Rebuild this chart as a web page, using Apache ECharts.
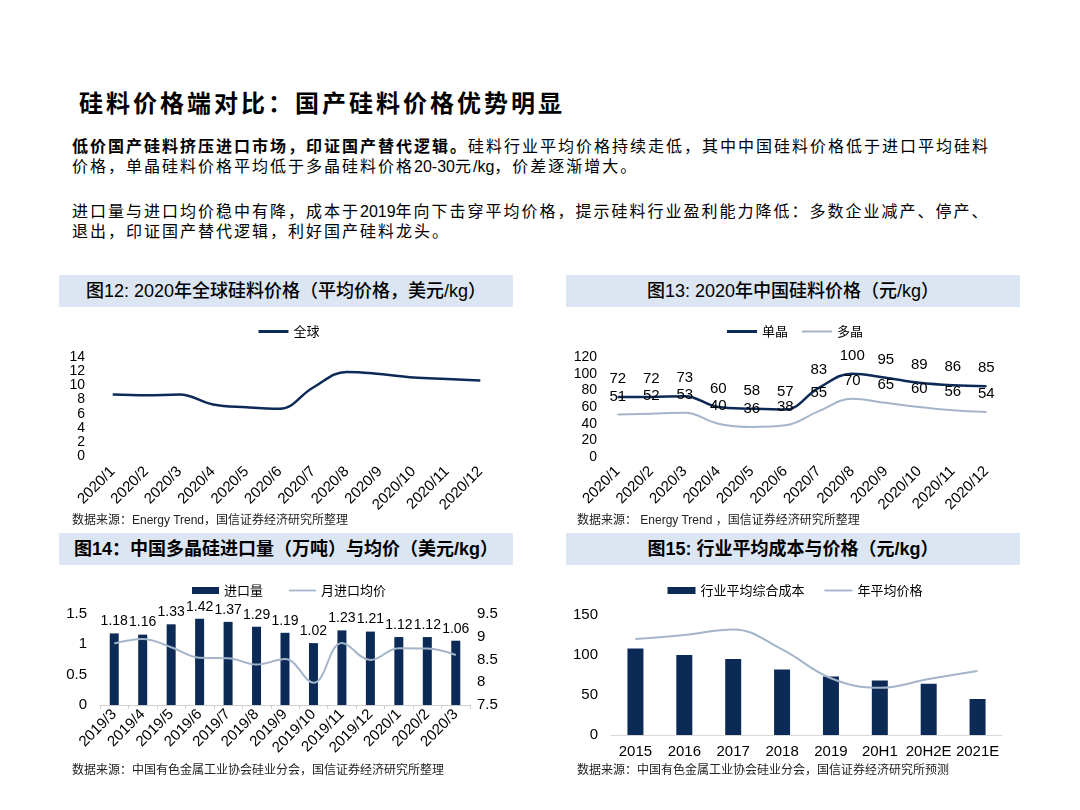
<!DOCTYPE html>
<html>
<head>
<meta charset="utf-8">
<script src="https://cdn.jsdelivr.net/npm/echarts@6/dist/echarts.min.js"></script>
<style>
    body { margin: 0; background: #fff; }
    #page { position: relative; width: 1080px; height: 810px; background: #fff; overflow: hidden;
        font-family: "Liberation Sans", "Noto Sans CJK SC", sans-serif; color: #000; }
    .abs { position: absolute; white-space: nowrap; }
    .title { left: 79px; top: 88px; font-size: 24px; font-weight: bold; letter-spacing: 3px; line-height: 32px; }
    .line { left: 72px; font-size: 16px; letter-spacing: 2px; line-height: 20px; }
    .line .n { letter-spacing: 0; }
    .just { width: 918px; text-align: justify; text-align-last: justify; }
    .head { height: 32px; line-height: 32px; width: 454px; background: #dce6f2; text-align: center; font-size: 18px; }
    .src { font-size: 12px; color: #222; line-height: 14px; }
    .chart { position: absolute; width: 460px; }
</style>
</head>
<body>
<div id="page">
    <div class="abs title">硅料价格端对比：国产硅料价格优势明显</div>

    <div class="abs line just" style="top:137px"><b>低价国产硅料挤压进口市场，印证国产替代逻辑。</b>硅料行业平均价格持续走低，其中中国硅料价格低于进口平均硅料</div>
    <div class="abs line" style="top:157px">价格，单晶硅料价格平均低于多晶硅料价格<span class="n">20-30</span>元<span class="n">/kg</span>，价差逐渐增大。</div>
    <div class="abs line just" style="top:202px;width:914px">进口量与进口均价稳中有降，成本于<span class="n">2019</span>年向下击穿平均价格，提示硅料行业盈利能力降低：多数企业减产、停产、</div>
    <div class="abs line" style="top:222px">退出，印证国产替代逻辑，利好国产硅料龙头。</div>

    <div class="abs head" style="left:59px;top:275px;font-weight:500">图12: 2020年全球硅料价格（平均价格，美元/kg）</div>
    <div class="abs head" style="left:566px;top:275px;font-weight:500">图13: 2020年中国硅料价格（元/kg）</div>
    <div class="abs head" style="left:59px;top:533px;font-weight:bold">图14：中国多晶硅进口量（万吨）与均价（美元/kg）</div>
    <div class="abs head" style="left:566px;top:533px;font-weight:bold">图15: 行业平均成本与价格（元/kg）</div>

    <div id="chart12" class="chart" style="left:59px;top:310px;height:205px"></div>
    <div id="chart13" class="chart" style="left:565px;top:310px;height:205px"></div>
    <div id="chart14" class="chart" style="left:59px;top:570px;height:195px"></div>
    <div id="chart15" class="chart" style="left:565px;top:570px;height:195px"></div>

    <div class="abs src" style="left:72px;top:513px">数据来源：Energy Trend，国信证券经济研究所整理</div>
    <div class="abs src" style="left:577px;top:513px">数据来源： Energy Trend ，国信证券经济研究所整理</div>
    <div class="abs src" style="left:72px;top:763px">数据来源：中国有色金属工业协会硅业分会，国信证券经济研究所整理</div>
    <div class="abs src" style="left:577px;top:763px">数据来源：中国有色金属工业协会硅业分会，国信证券经济研究所预测</div>
</div>

<script>
// chart 12 / 13: 2020 monthly prices
const months2020 = ['2020/1', '2020/2', '2020/3', '2020/4', '2020/5', '2020/6',
    '2020/7', '2020/8', '2020/9', '2020/10', '2020/11', '2020/12'];
const globalPrice = [8.7, 8.6, 8.7, 7.3, 6.9, 6.7, 9.7, 11.9, 11.6, 11.1, 10.9, 10.7];
const monoPrice = [72, 72, 73, 60, 58, 57, 83, 100, 95, 89, 86, 85];
const polyPrice = [51, 52, 53, 40, 36, 38, 55, 70, 65, 60, 56, 54];

// chart 14: imports
const importMonths = ['2019/3', '2019/4', '2019/5', '2019/6', '2019/7', '2019/8', '2019/9',
    '2019/10', '2019/11', '2019/12', '2020/1', '2020/2', '2020/3'];
const importVolume = [1.18, 1.16, 1.33, 1.42, 1.37, 1.29, 1.19, 1.02, 1.23, 1.21, 1.12, 1.12, 1.06];
const importPrice = [8.85, 8.95, 8.77, 8.54, 8.53, 8.39, 8.51, 7.99, 8.86, 8.49, 8.75, 8.74, 8.6];

// chart 15: cost vs price
const costYears = ['2015', '2016', '2017', '2018', '2019', '20H1', '20H2E', '2021E'];
const industryCost = [108, 100, 95, 82, 73, 68, 64, 45];
const annualPrice = [120, 125, 132, 107, 71, 59, 70, 80];

const NAVY = '#0c2a56';
const GREY = '#a4b5c9';
const numFont = 'Liberation Sans';
const cjkFont = 'Noto Sans CJK SC';

// flat bar shapes used as legend icons for the lines (legend keeps aspect)
const lineIcon3 = 'path://M0,0 L30,0 L30,3 L0,3 Z';
const lineIcon2 = 'path://M0,0 L30,0 L30,2 L0,2 Z';

const legendText = { fontSize: 13, color: '#000', fontFamily: cjkFont };
const numLabel = { fontSize: 15, color: '#000', fontFamily: numFont };

const option12 = {
    animation: false,
    legend: {
        top: 10, left: 'center', itemWidth: 30, itemHeight: 14,
        textStyle: legendText,
        data: [{ name: '全球', icon: lineIcon3 }]
    },
    grid: { left: 37, right: 22, top: 47, bottom: 58 },
    xAxis: {
        type: 'category', data: months2020,
        axisLine: { show: false }, axisTick: { show: false },
        axisLabel: Object.assign({ rotate: 45, interval: 0, margin: 13 }, numLabel)
    },
    yAxis: {
        type: 'value', min: 0, max: 14, interval: 2,
        splitLine: { show: false },
        axisLabel: Object.assign({ margin: 11 }, numLabel, { fontSize: 14 })
    },
    series: [{
        name: '全球', type: 'line', data: globalPrice, smooth: 0.4,
        symbol: 'none', lineStyle: { color: NAVY, width: 2.5 }, itemStyle: { color: NAVY }
    }]
};

const option13 = {
    animation: false,
    legend: {
        top: 10, left: 'center', itemWidth: 30, itemHeight: 14, itemGap: 14,
        textStyle: legendText,
        data: [{ name: '单晶', icon: lineIcon3 }, { name: '多晶', icon: lineIcon2 }]
    },
    grid: { left: 36, right: 22, top: 47, bottom: 58 },
    xAxis: {
        type: 'category', data: months2020,
        axisLine: { show: false }, axisTick: { show: false },
        axisLabel: Object.assign({ rotate: 45, interval: 0, margin: 12 }, numLabel)
    },
    yAxis: {
        type: 'value', min: 0, max: 120, interval: 20,
        splitLine: { show: false },
        axisLabel: Object.assign({ margin: 4 }, numLabel, { fontSize: 14 })
    },
    series: [{
        name: '单晶', type: 'line', data: monoPrice, smooth: 0.4,
        symbol: 'circle', symbolSize: 1, showSymbol: true,
        lineStyle: { color: NAVY, width: 2.5 }, itemStyle: { color: NAVY },
        label: Object.assign({ show: true, position: 'top', distance: 10 }, numLabel)
    }, {
        name: '多晶', type: 'line', data: polyPrice, smooth: 0.4,
        symbol: 'circle', symbolSize: 1, showSymbol: true,
        lineStyle: { color: GREY, width: 2 }, itemStyle: { color: GREY },
        label: Object.assign({ show: true, position: 'top', distance: 10 }, numLabel)
    }]
};

const option14 = {
    animation: false,
    legend: {
        top: 9, left: 'center', itemWidth: 27, itemHeight: 7, itemGap: 26,
        textStyle: legendText,
        data: [{ name: '进口量', icon: 'rect' }, { name: '月进口均价', icon: lineIcon2 }]
    },
    grid: { left: 41, right: 49, top: 44, bottom: 60 },
    xAxis: {
        type: 'category', data: importMonths,
        axisLine: { lineStyle: { color: '#d0d0d0' } },
        axisTick: { show: true, length: 4, lineStyle: { color: '#d0d0d0' } },
        axisLabel: Object.assign({ rotate: 45, interval: 0, margin: 7 }, numLabel)
    },
    yAxis: [{
        type: 'value', min: 0, max: 1.5, interval: 0.5,
        splitLine: { show: false },
        axisLabel: Object.assign({ margin: 13 }, numLabel)
    }, {
        type: 'value', min: 7.5, max: 9.5, interval: 0.5,
        splitLine: { show: false },
        axisLabel: Object.assign({ margin: 7 }, numLabel)
    }],
    series: [{
        name: '进口量', type: 'bar', data: importVolume, barWidth: 9,
        itemStyle: { color: NAVY },
        label: Object.assign({ show: true, position: 'top', distance: 5 }, numLabel, { fontSize: 14 })
    }, {
        name: '月进口均价', type: 'line', yAxisIndex: 1, data: importPrice, smooth: 0.4,
        symbol: 'none', lineStyle: { color: GREY, width: 2 }, itemStyle: { color: GREY }
    }]
};

const option15 = {
    animation: false,
    legend: {
        top: 9, left: 'center', itemWidth: 28, itemHeight: 7, itemGap: 20,
        textStyle: legendText,
        data: [{ name: '行业平均综合成本', icon: 'rect' }, { name: '年平均价格', icon: lineIcon2 }]
    },
    grid: { left: 46, right: 23, top: 45, bottom: 30 },
    xAxis: {
        type: 'category', data: costYears,
        axisLine: { lineStyle: { color: '#d9d9d9' } },
        axisTick: { show: false },
        axisLabel: Object.assign({ interval: 0, margin: 9 }, numLabel)
    },
    yAxis: {
        type: 'value', min: 0, max: 150, interval: 50,
        splitLine: { show: false },
        axisLabel: Object.assign({ margin: 13 }, numLabel)
    },
    series: [{
        name: '行业平均综合成本', type: 'bar', data: industryCost, barWidth: 16,
        itemStyle: { color: NAVY }
    }, {
        name: '年平均价格', type: 'line', data: annualPrice, smooth: 0.4,
        symbol: 'none', lineStyle: { color: GREY, width: 2 }, itemStyle: { color: GREY }
    }]
};

echarts.init(document.getElementById('chart12')).setOption(option12);
echarts.init(document.getElementById('chart13')).setOption(option13);
echarts.init(document.getElementById('chart14')).setOption(option14);
echarts.init(document.getElementById('chart15')).setOption(option15);
</script>
</body>
</html>
